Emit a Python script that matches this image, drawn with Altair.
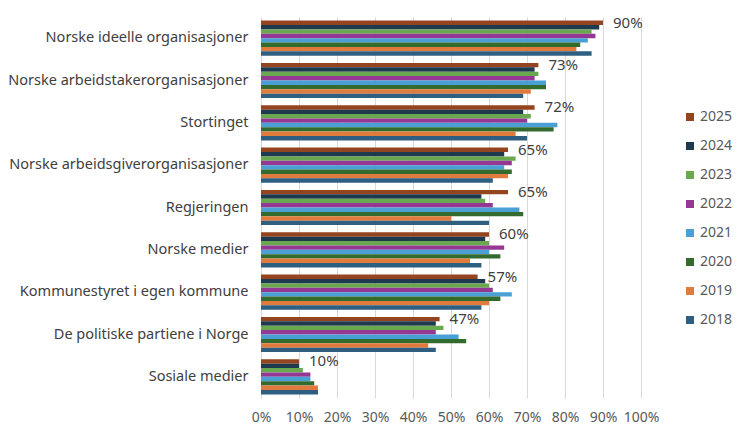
import altair as alt
import pandas as pd

categories = [
    "Norske ideelle organisasjoner",
    "Norske arbeidstakerorganisasjoner",
    "Stortinget",
    "Norske arbeidsgiverorganisasjoner",
    "Regjeringen",
    "Norske medier",
    "Kommunestyret i egen kommune",
    "De politiske partiene i Norge",
    "Sosiale medier",
]
years = ["2025", "2024", "2023", "2022", "2021", "2020", "2019", "2018"]
colors = ["#94441F", "#1E3A4F", "#6AA84F", "#953894", "#4A9FD5", "#336B2F", "#E07B3D", "#2E5F80"]
x_ticks = [0, 10, 20, 30, 40, 50, 60, 70, 80, 90, 100]

v2025 = [90, 73, 72, 65, 65, 60, 57, 47, 10]
v2024 = [89, 72, 69, 64, 58, 59, 59, 46, 10]
v2023 = [87, 73, 71, 67, 59, 60, 60, 48, 11]
v2022 = [88, 72, 70, 66, 61, 64, 61, 46, 13]
v2021 = [86, 75, 78, 64, 68, 60, 66, 52, 13]
v2020 = [84, 75, 77, 66, 69, 63, 63, 54, 14]
v2019 = [83, 71, 67, 65, 50, 55, 60, 44, 15]
v2018 = [87, 69, 70, 61, 60, 58, 58, 46, 15]

series = dict(zip(years, [v2025, v2024, v2023, v2022, v2021, v2020, v2019, v2018]))
rows = []
for y, vals in series.items():
    for c, v in zip(categories, vals):
        rows.append({"Kategori": c, "År": y, "Verdi": v / 100})
df = pd.DataFrame(rows)
labels_df = df[df["År"] == "2025"].copy()

FONT = "Noto Sans"

y_enc = alt.Y("Kategori:N", sort=categories,
              scale=alt.Scale(paddingInner=0.17, paddingOuter=0.085),
              axis=alt.Axis(title=None, labelFontSize=14.5, labelColor="#404040",
                            labelFont=FONT, ticks=False, labelPadding=13,
                            domain=True, domainColor="#d9d9d9", labelLimit=300))
x_enc = alt.X("Verdi:Q",
              scale=alt.Scale(domain=[0, 1], nice=False),
              axis=alt.Axis(title=None, format=".0%", values=[t / 100 for t in x_ticks],
                            labelFontSize=14, labelColor="#595959", labelFont=FONT,
                            labelOverlap=False, labelFlush=False, ticks=False, domain=False,
                            gridColor="#d9d9d9", labelPadding=12))

bars = alt.Chart(df).mark_bar().encode(
    y=y_enc,
    x=x_enc,
    yOffset=alt.YOffset("År:N", sort=years),
    color=alt.Color("År:N", sort=years,
                    scale=alt.Scale(domain=years, range=colors),
                    legend=alt.Legend(title=None, orient="none", legendX=422, legendY=93,
                                      symbolType="square", symbolSize=64, labelOffset=3,
                                      labelFontSize=14, labelColor="#595959",
                                      labelFont=FONT, rowPadding=15, symbolStrokeWidth=0)),
)

text = alt.Chart(labels_df).mark_text(align="left", baseline="middle", dx=10,
                                      fontSize=15, color="#404040", font=FONT).encode(
    y=y_enc,
    yOffset=alt.YOffset("År:N", sort=years, scale=alt.Scale(domain=years)),
    x=x_enc,
    text=alt.Text("Verdi:Q", format=".0%"),
)

chart = alt.layer(bars, text).properties(
    width=380, height=381,
    autosize=alt.AutoSizeParams(type="none"),
    padding={"left": 253, "top": 9, "right": 93, "bottom": 27},
).configure_view(stroke=None)

chart.save("out.html", embed_options={"renderer": "svg", "actions": False})
